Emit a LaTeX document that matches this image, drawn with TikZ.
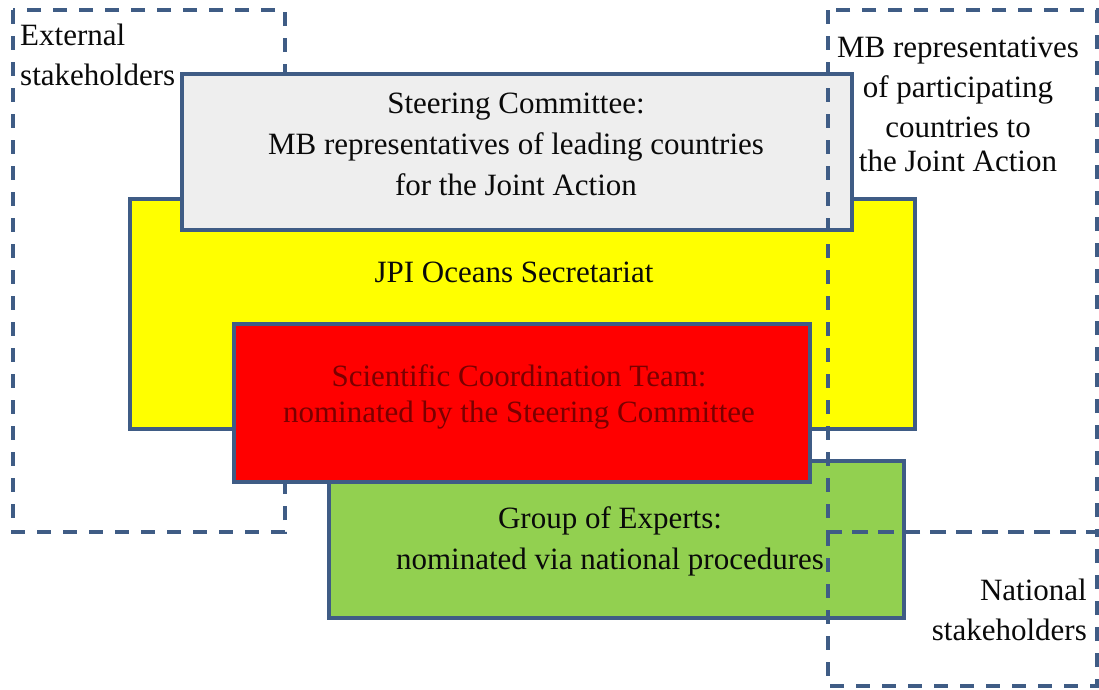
\documentclass[tikz,border=0pt]{standalone}
\usepackage{fontspec}
\setmainfont{Liberation Serif}
\newfontfamily\tnr{Liberation Serif}
\definecolor{edge}{HTML}{3F5C85}
\definecolor{scgray}{HTML}{EEEEEE}
\definecolor{jyellow}{HTML}{FFFF00}
\definecolor{jred}{HTML}{FF0000}
\definecolor{jgreen}{HTML}{92D050}
\definecolor{darkredtext}{HTML}{7A0000}
\definecolor{blacktext}{HTML}{0A0A0A}
\begin{document}
\begin{tikzpicture}[x=1pt,y=-1pt,
  box/.style={draw=edge, line width=3.5pt, anchor=north west, inner sep=0pt},
  dbox/.style={draw=edge, line width=3.5pt, dash pattern=on 14pt off 12pt},
  txt/.style={align=center, inner sep=0pt, text=blacktext, font=\tnr\fontsize{31}{38}\selectfont}
]
\useasboundingbox (0,0) rectangle (1099,689);
\fill[white] (0,0) rectangle (1099,689);
% left dashed region
\draw[dbox] (13,10) rectangle (285,532);
\node[txt, align=left, anchor=north west] (ext) at (20,24) {External\\[2pt]stakeholders};
% yellow
\node[box, fill=jyellow, minimum width=785pt, minimum height=230pt] (jpi) at (128,197) {};
\node[txt] (jpit) at (514,272) {JPI Oceans Secretariat};
% gray steering
\node[box, fill=scgray, minimum width=670pt, minimum height=156pt] (sc) at (180,72) {};
\node[txt] (sct) at (516,144) {Steering Committee:\\[3pt]MB representatives of leading countries\\[3pt]for the Joint Action};
% green
\node[box, fill=jgreen, minimum width=575pt, minimum height=157pt] (ge) at (327,459) {};
\node[txt] (get) at (610,541) {Group of Experts:\\[3pt]nominated via national procedures};
% red
\node[box, fill=jred, minimum width=576pt, minimum height=158pt] (sct2) at (232,322) {};
\node[txt, text=darkredtext, font=\tnr\fontsize{31}{36}\selectfont] (sctt) at (519,397) {Scientific Coordination Team:\\nominated by the Steering Committee};
% right dashed regions
\draw[dbox] (828,10) rectangle (1097,532);
\draw[dbox] (828,532) rectangle (1097,686);
\node[txt] (mbp) at (958,104) {MB representatives\\[2pt]of participating\\[2pt]countries to\\[-4pt]the Joint Action};
\node[txt, align=right, anchor=east] (nat) at (1087,610) {National\\[2pt]stakeholders};
\end{tikzpicture}
\end{document}
